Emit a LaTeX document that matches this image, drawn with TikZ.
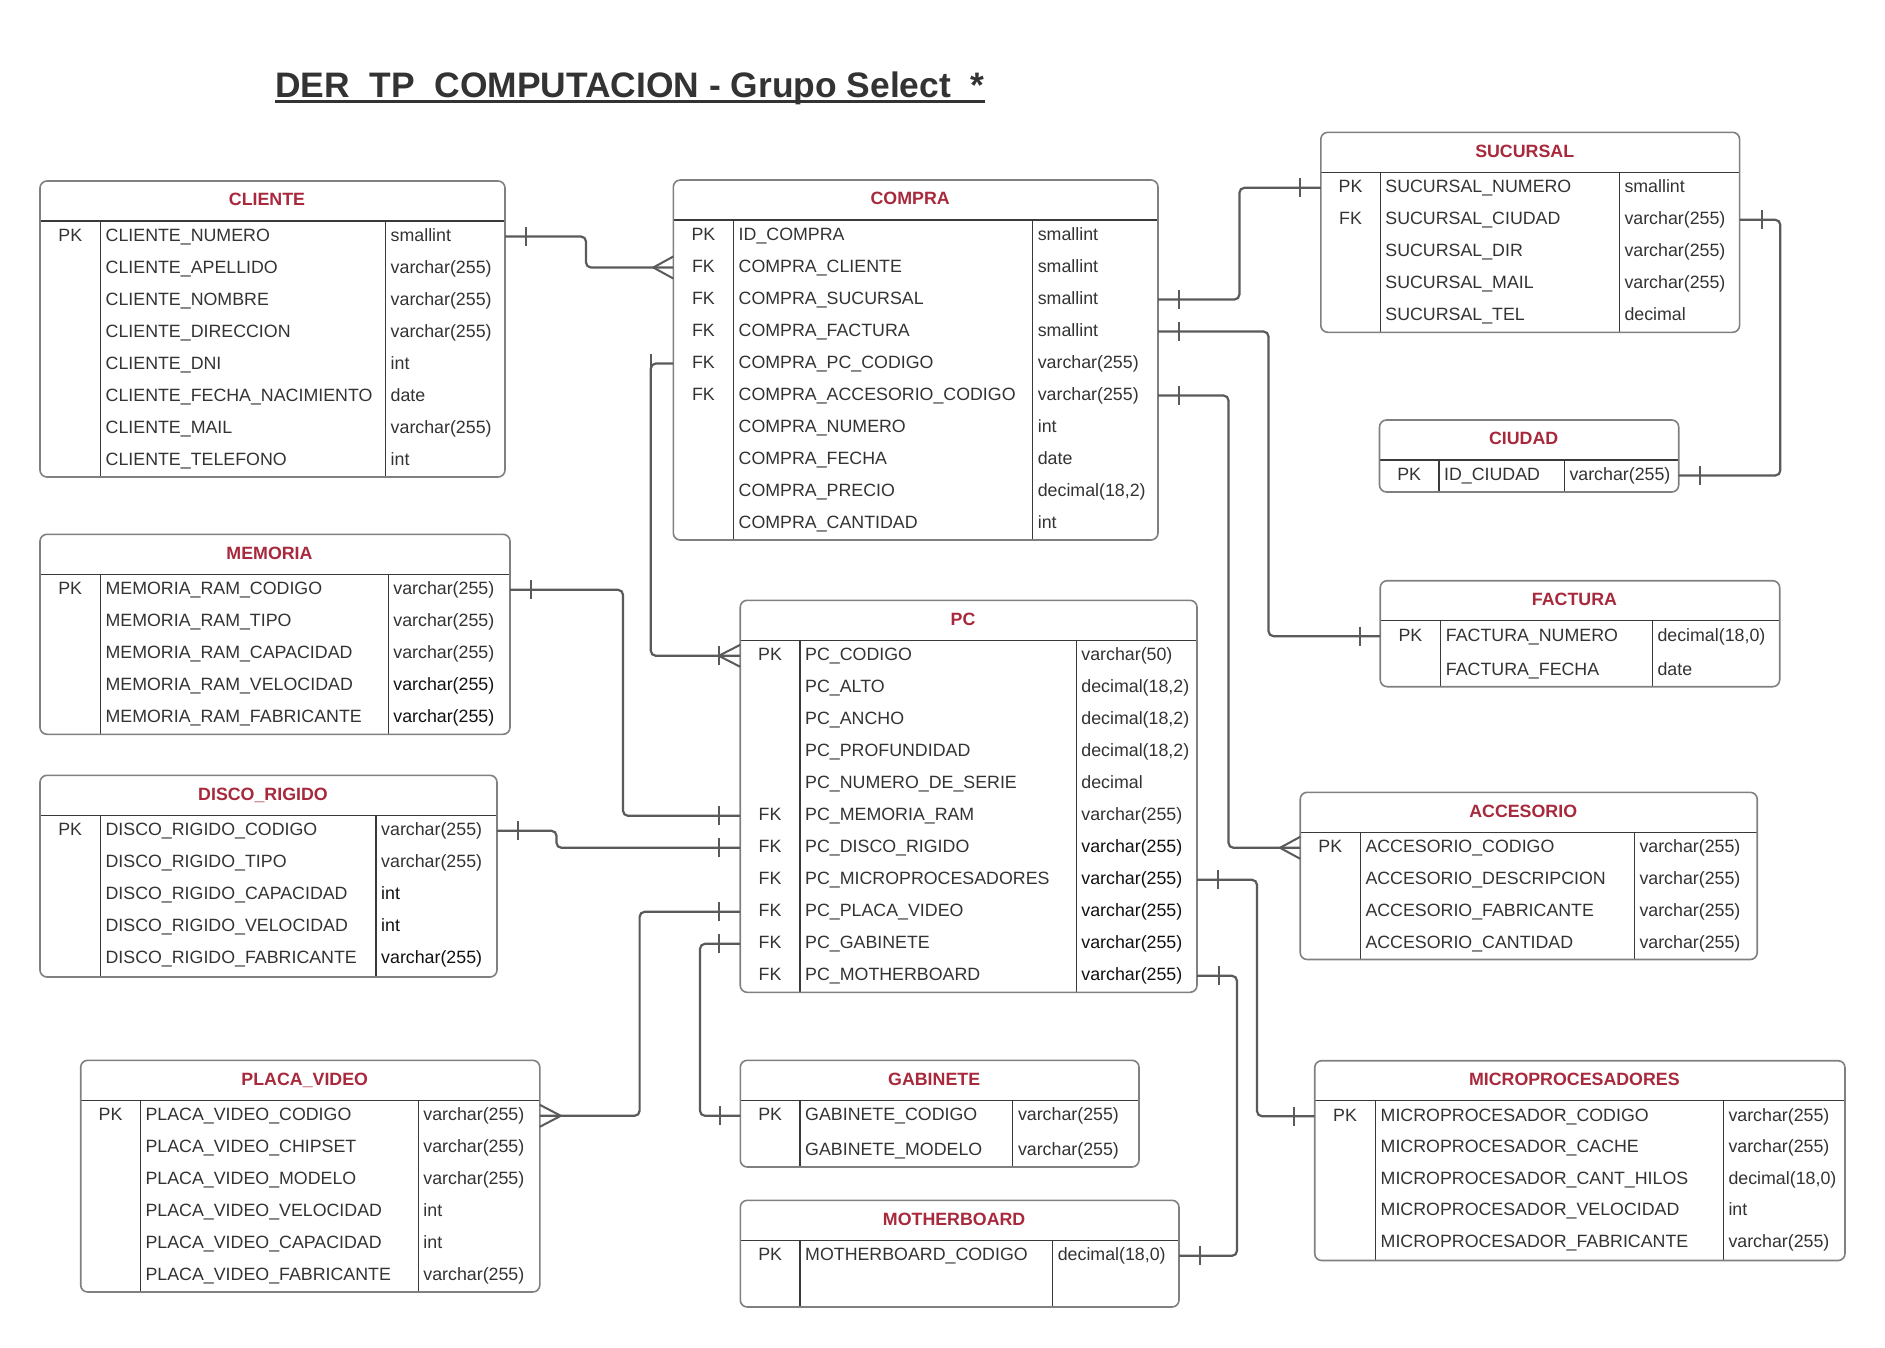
\documentclass[tikz,border=0pt]{standalone}
\usepackage{fontspec}
\setmainfont{Liberation Sans}
\usetikzlibrary{calc}
\definecolor{hdrred}{HTML}{A8283C}
\definecolor{txt}{HTML}{333333}
\definecolor{dk}{HTML}{111111}
\definecolor{bord}{HTML}{808080}
\definecolor{sepc}{HTML}{3A3A3A}
\definecolor{cn}{HTML}{5A5A5A}

\tikzset{
  tborder/.style={draw=bord, line width=1.6, rounded corners=7},
  tline/.style={draw=sepc, line width=1.2},
  ttitle/.style={anchor=base, inner sep=0, text=hdrred, font=\bfseries\fontsize{17.8}{20}\selectfont},
  rowbox/.style={shape=rectangle, inner sep=0, outer sep=0, draw=none},
  keytxt/.style={anchor=base, inner sep=0, text=txt, font=\fontsize{17.8}{20}\selectfont},
  celltxt/.style={anchor=base west, inner sep=0, text=txt, font=\fontsize{17.8}{20}\selectfont},
  conn/.style={draw=cn, line width=2.2, rounded corners=5},
  tickln/.style={draw=cn, line width=2.0},
}

% #1 id, #2 title, #3 left, #4 right, #5 header line y, #6 bottom, #7 col1, #8 col2, #9 row spacing
\newcommand\ertable[9]{%
  \def\erL{#3}\def\erR{#4}\def\erH{#5}\def\erCa{#7}\def\erCb{#8}\def\erSp{#9}%
  \pgfmathsetmacro\erW{#4-#3}\pgfmathsetmacro\erX{(#3+#4)/2}%
  \pgfmathsetmacro\erTX{(#3+#4)/2-5.5}%
  \draw[tline] (#3,#5) -- (#4,#5);
  \draw[tline] (#7,#5) -- (#7,#6);
  \draw[tline] (#8,#5) -- (#8,#6);
  \draw[tborder] (#3,#5-40) rectangle (#4,#6);
  \node[ttitle] (#1) at (\erTX,#5-15.2) {#2};
}
% #1 id, #2 index, #3 key, #4 field, #5 type
\newcommand\errow[5]{%
  \pgfmathsetmacro\erRy{\erH+15.5+(#2-1)*\erSp}%
  \pgfmathsetmacro\erRb{\erRy+4.8}%
  \pgfmathsetmacro\erKx{(\erL+\erCa)/2}%
  \pgfmathsetmacro\erFx{\erCa+5}%
  \pgfmathsetmacro\erTx{\erCb+5}%
  \node[rowbox, minimum width=\erW pt, minimum height=\erSp pt] (#1-#2) at (\erX,\erRy) {};
  \node[keytxt] (#1-#2-k) at (\erKx,\erRb) {#3};
  \node[celltxt] (#1-#2-f) at (\erFx,\erRb) {#4};
  \node[celltxt] (#1-#2-t) at (\erTx,\erRb) {#5};
}
\newcommand\dkt[1]{\textcolor{dk}{#1}}
\newcommand\ertick[2]{\draw[tickln] ($(#1)+(#2,-9.5)$) -- ++(0,19);}
\newcommand\ercrow[2]{\draw[tickln] ($(#1)+(0,-11)$) -- ($(#1)+(#2,0)$) -- ($(#1)+(0,11)$);}

\begin{document}
\begin{tikzpicture}[x=1pt, y=-1pt]
\fill[white] (0,0) rectangle (1885,1347);
\useasboundingbox (0,0) rectangle (1885,1347);

% title
\node[anchor=base west, inner sep=0, text=txt, font=\bfseries\fontsize{35.4}{40}\selectfont] (title) at (275,97) {DER\ \ TP\ \ COMPUTACION - Grupo Select\ \ *};
\draw[draw=txt, line width=3.2] ($(title.base west)+(0,4.5)$) -- ($(title.base east)+(0,4.5)$);

% CLIENTE
\ertable{cliente}{CLIENTE}{40}{505}{221}{477}{100.5}{385.5}{32}
\errow{cliente}{1}{PK}{CLIENTE\_NUMERO}{smallint}
\errow{cliente}{2}{}{CLIENTE\_APELLIDO}{varchar(255)}
\errow{cliente}{3}{}{CLIENTE\_NOMBRE}{varchar(255)}
\errow{cliente}{4}{}{CLIENTE\_DIRECCION}{varchar(255)}
\errow{cliente}{5}{}{CLIENTE\_DNI}{int}
\errow{cliente}{6}{}{CLIENTE\_FECHA\_NACIMIENTO}{date}
\errow{cliente}{7}{}{CLIENTE\_MAIL}{varchar(255)}
\errow{cliente}{8}{}{CLIENTE\_TELEFONO}{int}

% COMPRA
\ertable{compra}{COMPRA}{673.3}{1158}{220}{540}{733.5}{1032.6}{32}
\errow{compra}{1}{PK}{ID\_COMPRA}{smallint}
\errow{compra}{2}{FK}{COMPRA\_CLIENTE}{smallint}
\errow{compra}{3}{FK}{COMPRA\_SUCURSAL}{smallint}
\errow{compra}{4}{FK}{COMPRA\_FACTURA}{smallint}
\errow{compra}{5}{FK}{COMPRA\_PC\_CODIGO}{varchar(255)}
\errow{compra}{6}{FK}{COMPRA\_ACCESORIO\_CODIGO}{varchar(255)}
\errow{compra}{7}{}{COMPRA\_NUMERO}{int}
\errow{compra}{8}{}{COMPRA\_FECHA}{date}
\errow{compra}{9}{}{COMPRA\_PRECIO}{decimal(18,2)}
\errow{compra}{10}{}{COMPRA\_CANTIDAD}{int}

% SUCURSAL
\ertable{sucursal}{SUCURSAL}{1320.8}{1739.6}{172.3}{332.3}{1380.2}{1619.3}{32}
\errow{sucursal}{1}{PK}{SUCURSAL\_NUMERO}{smallint}
\errow{sucursal}{2}{FK}{SUCURSAL\_CIUDAD}{varchar(255)}
\errow{sucursal}{3}{}{SUCURSAL\_DIR}{varchar(255)}
\errow{sucursal}{4}{}{SUCURSAL\_MAIL}{varchar(255)}
\errow{sucursal}{5}{}{SUCURSAL\_TEL}{decimal}

% CIUDAD
\ertable{ciudad}{CIUDAD}{1379.5}{1678.7}{460}{492}{1438.9}{1564.3}{32}
\errow{ciudad}{1}{PK}{ID\_CIUDAD}{varchar(255)}

% FACTURA
\ertable{factura}{FACTURA}{1380.2}{1779.7}{620.7}{686.7}{1440.7}{1652.3}{34}
\errow{factura}{1}{PK}{FACTURA\_NUMERO}{decimal(18,0)}
\errow{factura}{2}{}{FACTURA\_FECHA}{date}

% MEMORIA
\ertable{memoria}{MEMORIA}{40}{510}{574.3}{734.3}{100.4}{388.2}{32}
\errow{memoria}{1}{PK}{MEMORIA\_RAM\_CODIGO}{varchar(255)}
\errow{memoria}{2}{}{MEMORIA\_RAM\_TIPO}{varchar(255)}
\errow{memoria}{3}{}{MEMORIA\_RAM\_CAPACIDAD}{varchar(255)}
\errow{memoria}{4}{}{MEMORIA\_RAM\_VELOCIDAD}{\dkt{varchar(255)}}
\errow{memoria}{5}{}{MEMORIA\_RAM\_FABRICANTE}{\dkt{varchar(255)}}

% DISCO_RIGIDO
\ertable{disco}{DISCO\_RIGIDO}{40}{497}{815.3}{977}{100.4}{376}{32}
\errow{disco}{1}{PK}{DISCO\_RIGIDO\_CODIGO}{varchar(255)}
\errow{disco}{2}{}{DISCO\_RIGIDO\_TIPO}{varchar(255)}
\errow{disco}{3}{}{DISCO\_RIGIDO\_CAPACIDAD}{\dkt{int}}
\errow{disco}{4}{}{DISCO\_RIGIDO\_VELOCIDAD}{\dkt{int}}
\errow{disco}{5}{}{DISCO\_RIGIDO\_FABRICANTE}{\dkt{varchar(255)}}

% PC
\ertable{pc}{PC}{740.2}{1197}{640.3}{992.3}{800}{1076.2}{32}
\errow{pc}{1}{PK}{PC\_CODIGO}{varchar(50)}
\errow{pc}{2}{}{PC\_ALTO}{decimal(18,2)}
\errow{pc}{3}{}{PC\_ANCHO}{decimal(18,2)}
\errow{pc}{4}{}{PC\_PROFUNDIDAD}{decimal(18,2)}
\errow{pc}{5}{}{PC\_NUMERO\_DE\_SERIE}{decimal}
\errow{pc}{6}{FK}{PC\_MEMORIA\_RAM}{varchar(255)}
\errow{pc}{7}{FK}{PC\_DISCO\_RIGIDO}{\dkt{varchar(255)}}
\errow{pc}{8}{FK}{PC\_MICROPROCESADORES}{\dkt{varchar(255)}}
\errow{pc}{9}{FK}{PC\_PLACA\_VIDEO}{\dkt{varchar(255)}}
\errow{pc}{10}{FK}{PC\_GABINETE}{\dkt{varchar(255)}}
\errow{pc}{11}{FK}{PC\_MOTHERBOARD}{\dkt{varchar(255)}}

% ACCESORIO
\ertable{accesorio}{ACCESORIO}{1300.2}{1757.2}{832.3}{959.5}{1360.3}{1634.3}{32}
\errow{accesorio}{1}{PK}{ACCESORIO\_CODIGO}{varchar(255)}
\errow{accesorio}{2}{}{ACCESORIO\_DESCRIPCION}{varchar(255)}
\errow{accesorio}{3}{}{ACCESORIO\_FABRICANTE}{varchar(255)}
\errow{accesorio}{4}{}{ACCESORIO\_CANTIDAD}{varchar(255)}

% PLACA_VIDEO
\ertable{placa}{PLACA\_VIDEO}{80.7}{539.8}{1100.3}{1292}{140.4}{418.2}{32}
\errow{placa}{1}{PK}{PLACA\_VIDEO\_CODIGO}{varchar(255)}
\errow{placa}{2}{}{PLACA\_VIDEO\_CHIPSET}{varchar(255)}
\errow{placa}{3}{}{PLACA\_VIDEO\_MODELO}{varchar(255)}
\errow{placa}{4}{}{PLACA\_VIDEO\_VELOCIDAD}{int}
\errow{placa}{5}{}{PLACA\_VIDEO\_CAPACIDAD}{int}
\errow{placa}{6}{}{PLACA\_VIDEO\_FABRICANTE}{varchar(255)}

% GABINETE
\ertable{gabinete}{GABINETE}{740.3}{1139}{1100.3}{1167}{800}{1012.8}{34.7}
\errow{gabinete}{1}{PK}{GABINETE\_CODIGO}{varchar(255)}
\errow{gabinete}{2}{}{GABINETE\_MODELO}{varchar(255)}

% MOTHERBOARD
\ertable{mb}{MOTHERBOARD}{740.3}{1179}{1240.3}{1307}{800}{1052.6}{32}
\errow{mb}{1}{PK}{MOTHERBOARD\_CODIGO}{decimal(18,0)}

% MICROPROCESADORES
\ertable{micro}{MICROPROCESADORES}{1314.7}{1845}{1100.7}{1260.5}{1375.5}{1723.3}{31.6}
\errow{micro}{1}{PK}{MICROPROCESADOR\_CODIGO}{varchar(255)}
\errow{micro}{2}{}{MICROPROCESADOR\_CACHE}{varchar(255)}
\errow{micro}{3}{}{MICROPROCESADOR\_CANT\_HILOS}{decimal(18,0)}
\errow{micro}{4}{}{MICROPROCESADOR\_VELOCIDAD}{int}
\errow{micro}{5}{}{MICROPROCESADOR\_FABRICANTE}{varchar(255)}

% ---------- connectors ----------
\draw[conn] (cliente-1.east) -- ++(81,0) |- (compra-2.west);
\ertick{cliente-1.east}{20.7}
\ercrow{compra-2.west}{-20}

\draw[conn] (compra-5.west) -- ++(-22.5,0) |- (pc-1.west);
\ertick{compra-5.west}{-22.5}
\ertick{pc-1.west}{-21.4}
\ercrow{pc-1.west}{-21.4}

\draw[conn] (compra-3.east) -- ++(81.4,0) |- (sucursal-1.west);
\ertick{compra-3.east}{21.3}
\ertick{sucursal-1.west}{-20.5}

\draw[conn] (compra-4.east) -- ++(110.5,0) |- (factura-1.west);
\ertick{compra-4.east}{21.3}
\ertick{factura-1.west}{-20.7}

\draw[conn] (compra-6.east) -- ++(70.5,0) |- (accesorio-1.west);
\ertick{compra-6.east}{21.3}
\ercrow{accesorio-1.west}{-20.2}

\draw[conn] (sucursal-2.east) -- ++(40.7,0) |- (ciudad-1.east);
\ertick{sucursal-2.east}{21.9}
\ertick{ciudad-1.east}{21.3}

\draw[conn] (memoria-1.east) -- ++(113,0) |- (pc-6.west);
\ertick{memoria-1.east}{21.3}
\ertick{pc-6.west}{-21.4}

\draw[conn] (disco-1.east) -- ++(59.5,0) |- (pc-7.west);
\ertick{disco-1.east}{20.5}
\ertick{pc-7.west}{-21.4}

\draw[conn] (placa-1.east) -- ++(99.8,0) |- (pc-9.west);
\ercrow{placa-1.east}{21}
\ertick{pc-9.west}{-21.4}

\draw[conn] (gabinete-1.west) -- ++(-40.3,0) |- (pc-10.west);
\ertick{gabinete-1.west}{-20.6}
\ertick{pc-10.west}{-21.4}

\draw[conn] (pc-8.east) -- ++(60,0) |- (micro-1.west);
\ertick{pc-8.east}{21.2}
\ertick{micro-1.west}{-20.4}

\draw[conn] (pc-11.east) -- ++(40,0) |- (mb-1.east);
\ertick{pc-11.east}{22.4}
\ertick{mb-1.east}{21.3}
\end{tikzpicture}
\end{document}
